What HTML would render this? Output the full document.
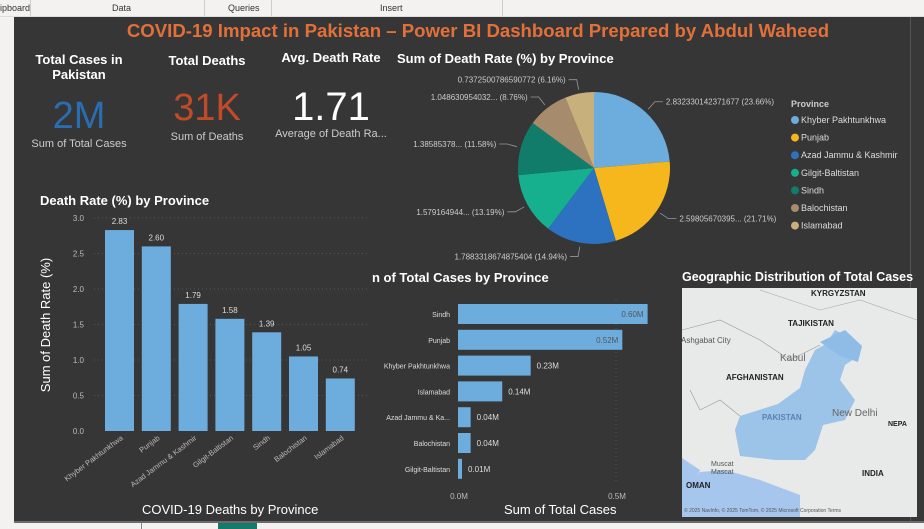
<!DOCTYPE html>
<html><head><meta charset="utf-8">
<style>
html,body{margin:0;padding:0;width:924px;height:529px;overflow:hidden;background:#f3f2f1;font-family:"Liberation Sans",sans-serif}
.abs{position:absolute}
.t{color:#fff;font-weight:bold;font-size:13px}
</style></head>
<body>
<div class="abs" style="left:0;top:0;width:924px;height:16px;background:#f3f2f1;border-bottom:1px solid #ddd;font-size:9px;color:#333">
 <span class="abs" style="left:0;top:3px">ipboard</span>
 <span class="abs" style="left:30px;top:0;width:1px;height:16px;background:#ccc"></span>
 <span class="abs" style="left:112px;top:3px">Data</span>
 <span class="abs" style="left:204px;top:0;width:1px;height:16px;background:#ccc"></span>
 <span class="abs" style="left:228px;top:3px">Queries</span>
 <span class="abs" style="left:271px;top:0;width:1px;height:16px;background:#ccc"></span>
 <span class="abs" style="left:380px;top:3px">Insert</span>
 <span class="abs" style="left:502px;top:0;width:1px;height:16px;background:#ccc"></span>
</div>
<div class="abs" style="left:14px;top:17px;width:896px;height:504px;background:#363636"></div>
<div class="abs" style="left:910px;top:17px;width:14px;height:504px;background:#383838;border-left:1px solid #555"></div>
<div class="abs" style="left:14px;top:521px;width:910px;height:2px;background:#6b6b6b"></div>
<div class="abs" style="left:141px;top:523px;width:1px;height:6px;background:#888"></div>
<div class="abs" style="left:218px;top:523px;width:39px;height:6px;background:#167a6a"></div>

<div class="abs" style="left:30px;top:20px;width:896px;text-align:center;color:#e2703a;font-weight:bold;font-size:18.6px">COVID-19 Impact in Pakistan – Power BI Dashboard Prepared by Abdul Waheed</div>

<div class="abs t" style="left:28px;top:52px;width:102px;text-align:center;line-height:15px">Total Cases in Pakistan</div>
<div class="abs" style="left:28px;top:96px;width:102px;text-align:center;color:#2a6db0;font-size:38px;line-height:40px">2M</div>
<div class="abs" style="left:20px;top:138px;width:118px;text-align:center;color:#ccc;font-size:11px">Sum of Total Cases</div>

<div class="abs t" style="left:160px;top:53px;width:94px;text-align:center">Total Deaths</div>
<div class="abs" style="left:155px;top:88px;width:104px;text-align:center;color:#c14a28;font-size:38px;line-height:40px">31K</div>
<div class="abs" style="left:155px;top:131px;width:104px;text-align:center;color:#ccc;font-size:11px">Sum of Deaths</div>

<div class="abs t" style="left:278px;top:50px;width:106px;text-align:center">Avg. Death Rate</div>
<div class="abs" style="left:270px;top:86px;width:122px;text-align:center;color:#fff;font-size:40px;line-height:42px">1.71</div>
<div class="abs" style="left:270px;top:128px;width:122px;text-align:center;color:#ccc;font-size:11px">Average of Death Ra...</div>

<div class="abs t" style="left:397px;top:51px">Sum of Death Rate (%) by Province</div>
<div class="abs t" style="left:40px;top:193px">Death Rate (%) by Province</div>
<div class="abs" style="left:142px;top:502px;color:#fff;font-size:13px">COVID-19 Deaths by Province</div>
<div class="abs t" style="left:372px;top:270px">n of Total Cases by Province</div>
<div class="abs" style="left:504px;top:502px;color:#fff;font-size:13px">Sum of Total Cases</div>
<div class="abs t" style="left:682px;top:270px;font-size:12.5px">Geographic Distribution of Total Cases</div>

<svg class="abs" style="left:0;top:0" width="924" height="529" id="charts">
 <g id="vbar"></g><g id="hbar"></g><g id="pie"></g>
 <g>
  <rect x="682" y="288" width="235" height="229" fill="#e8e9e9"/>
  <polygon points="682,458 700,470 690,500 682,505" fill="#a6c6ee"/>
  <polygon points="682,505 700,472 725,470 760,480 800,495 800,517 682,517" fill="#a6c6ee"/>
  <polygon points="740,416 778,404 800,388 805,370 815,350 826,344 835,330 855,340 860,355 845,365 840,380 855,400 845,420 823,425 815,450 805,460 775,460 740,456 735,430" fill="#9cc3e8"/>
  <polygon points="820,342 845,330 862,346 858,362 840,356" fill="#8fbce6"/>
  <polyline points="682,330 720,320 760,340 790,360 820,345" fill="none" stroke="#999" stroke-width="0.6"/>
  <polyline points="740,416 720,400 700,410 690,390" fill="none" stroke="#999" stroke-width="0.6"/>
  <polyline points="760,290 790,300 820,310 860,300 917,320" fill="none" stroke="#aaa" stroke-width="0.6"/>
  <text x="811" y="296" font-size="8" font-weight="bold" fill="#222">KYRGYZSTAN</text>
  <text x="788" y="326" font-size="8" font-weight="bold" fill="#222">TAJIKISTAN</text>
  <text x="681" y="343" font-size="8" fill="#555">Ashgabat City</text>
  <text x="780" y="361" font-size="10" fill="#666">Kabul</text>
  <text x="726" y="380" font-size="8" font-weight="bold" fill="#222">AFGHANISTAN</text>
  <text x="762" y="420" font-size="8" font-weight="bold" fill="#5a82b4">PAKISTAN</text>
  <text x="832" y="416" font-size="10" fill="#666">New Delhi</text>
  <text x="888" y="426" font-size="7" font-weight="bold" fill="#222">NEPA</text>
  <text x="711" y="466" font-size="7" fill="#555">Muscat</text>
  <text x="711" y="474" font-size="7" fill="#555">Mascat</text>
  <text x="862" y="476" font-size="8" font-weight="bold" fill="#222">INDIA</text>
  <text x="686" y="488" font-size="8" font-weight="bold" fill="#222">OMAN</text>
  <text x="684" y="512" font-size="5" fill="#555">© 2025 NavInfo, © 2025 TomTom, © 2025 Microsoft Corporation  Terms</text>
 </g>
</svg>

<script>
const NS='http://www.w3.org/2000/svg';
function mk(tag,attrs,parent,txt){const e=document.createElementNS(NS,tag);for(const k in attrs)e.setAttribute(k,attrs[k]);if(txt!==undefined)e.textContent=txt;parent.appendChild(e);return e;}

// ---- Vertical bar chart data ----
const vbarCategories=['Khyber Pakhtunkhwa','Punjab','Azad Jammu & Kashmir','Gilgit-Baltistan','Sindh','Balochistan','Islamabad'];
const vbarValues=[2.83,2.60,1.79,1.58,1.39,1.05,0.74];
const vbarTicks=[0,0.5,1.0,1.5,2.0,2.5,3.0];

// ---- Horizontal bar data ----
const hbarCategories=['Sindh','Punjab','Khyber Pakhtunkhwa','Islamabad','Azad Jammu & Ka...','Balochistan','Gilgit-Baltistan'];
const hbarValues=[0.60,0.52,0.23,0.14,0.04,0.04,0.01];
const hbarLabels=['0.60M','0.52M','0.23M','0.14M','0.04M','0.04M','0.01M'];
const hbarTicks=[0,0.5];

// ---- Pie data ----
const pieCategories=['Khyber Pakhtunkhwa','Punjab','Azad Jammu & Kashmir','Gilgit-Baltistan','Sindh','Balochistan','Islamabad'];
const pieValues=[2.832330142371677,2.59805670395,1.7883318674875404,1.579164944,1.38585378,1.048630954032,0.7372500786590772];
const pieLabels=['2.832330142371677 (23.66%)','2.59805670395... (21.71%)','1.7883318674875404 (14.94%)','1.579164944... (13.19%)','1.38585378... (11.58%)','1.048630954032... (8.76%)','0.7372500786590772 (6.16%)'];
const pieColors=['#6cadde','#f5b71c','#2d72c0','#17b08f','#127c6a','#a78b6d','#c8b07c'];

// vertical bar
(function(){
 const g=document.getElementById('vbar');
 const y0=431,pxPer=71,x0=105,step=36.8,bw=29;
 const y=v=>y0-v*pxPer, x=i=>x0+i*step;
 mk('text',{x:50,y:325,fill:'#fff','font-size':13,'text-anchor':'middle',transform:'rotate(-90 50 325)',},g,'Sum of Death Rate (%)');
 vbarTicks.forEach(t=>{
  const tl=mk('text',{x:84,y:y(t)+3,fill:'#bbb','font-size':8,'text-anchor':'end'},g,t.toFixed(1));
  
  
  if(t>0){const gl=mk('line',{x1:94,x2:368,y1:y(t),y2:y(t),stroke:'#555','stroke-dasharray':'1,3'},g);}
 });
 vbarValues.forEach((v,i)=>{
  const r=mk('rect',{x:x(i),y:y(v),width:bw,height:v*pxPer,fill:'#6cadde'},g);
  
  
  const l=mk('text',{x:x(i)+bw/2,y:y(v)-6,fill:'#ddd','font-size':8,'text-anchor':'middle'},g,v.toFixed(2));
  
  
  const cx=x(i)+bw/2+4, cy=y0+8;
  const c=mk('text',{x:cx,y:cy,fill:'#bbb','font-size':7.5,'text-anchor':'end',transform:'rotate(-37 '+cx+' '+cy+')'},g,vbarCategories[i]);
  
  
 });
})();

// horizontal bar
(function(){
 const g=document.getElementById('hbar');
 const x0=458,pxPer=316,y0=304,step=25.8,bh=20;
 const x=v=>x0+v*pxPer, y=i=>y0+i*step;
 hbarTicks.forEach(t=>{
  const tl=mk('text',{x:x(t)+1,y:499,fill:'#bbb','font-size':8,'text-anchor':'middle'},g,t.toFixed(1)+'M');
  
  
  if(t>0){const gl=mk('line',{x1:x(t),x2:x(t),y1:300,y2:482,stroke:'#555','stroke-dasharray':'1,3'},g);}
 });
 hbarValues.forEach((v,i)=>{
  const w=Math.max(v*pxPer,4);
  const r=mk('rect',{x:x0,y:y(i),width:w,height:bh,fill:'#6cadde'},g);
  
  
  const c=mk('text',{x:450,y:y(i)+bh/2+3,fill:'#ddd','font-size':7,'text-anchor':'end'},g,hbarCategories[i]);
  
  
  const inside=(x0+w+40>660);
  const l=mk('text',{x:inside?x0+w-4:x0+w+6,y:y(i)+bh/2+3,fill:inside?'#555':'#ddd','font-size':8,'text-anchor':inside?'end':'start'},g,hbarLabels[i]);
  
  
 });
})();

// pie
(function(){
 const g=document.getElementById('pie');
 const cx=594,cy=168,r=76;
 const total=pieValues.reduce((a,b)=>a+b,0);
 let a=-Math.PI/2;
 const pt=(ang,rr)=>[cx+rr*Math.cos(ang),cy+rr*Math.sin(ang)];
 pieValues.forEach((v,i)=>{
  const da=v/total*2*Math.PI, a2=a+da;
  const p1=pt(a,r),p2=pt(a2,r);
  const s=mk('path',{d:`M${cx},${cy} L${p1[0]},${p1[1]} A${r},${r} 0 ${da>Math.PI?1:0} 1 ${p2[0]},${p2[1]} Z`,fill:pieColors[i]},g);
  
  
  const m=a+da/2, q=pt(m,r+4), q2=pt(m,r+14);
  const right=Math.cos(m)>=0;
  const ex=q2[0]+(right?8:-8);
  mk('polyline',{points:`${q[0]},${q[1]} ${q2[0]},${q2[1]} ${ex},${q2[1]}`,fill:'none',stroke:'#999','stroke-width':0.8},g);
  const l=mk('text',{x:ex+(right?3:-3),y:q2[1]+3,fill:'#ccc','font-size':8,'text-anchor':right?'start':'end'},g,pieLabels[i]);
  
  
  a=a2;
 });
 const lt=mk('text',{x:791,y:107,fill:'#ccc','font-size':9,'font-weight':'bold'},g,'Province');
 
 
 pieCategories.forEach((c,i)=>{
  const yy=120+i*17.6;
  const d=mk('circle',{cx:795,cy:yy,r:4,fill:pieColors[i]},g);
  
  
  const t=mk('text',{x:801,y:yy+3,fill:'#ddd','font-size':9},g,c);
  
  
 });
})();
</script>
</body></html>
